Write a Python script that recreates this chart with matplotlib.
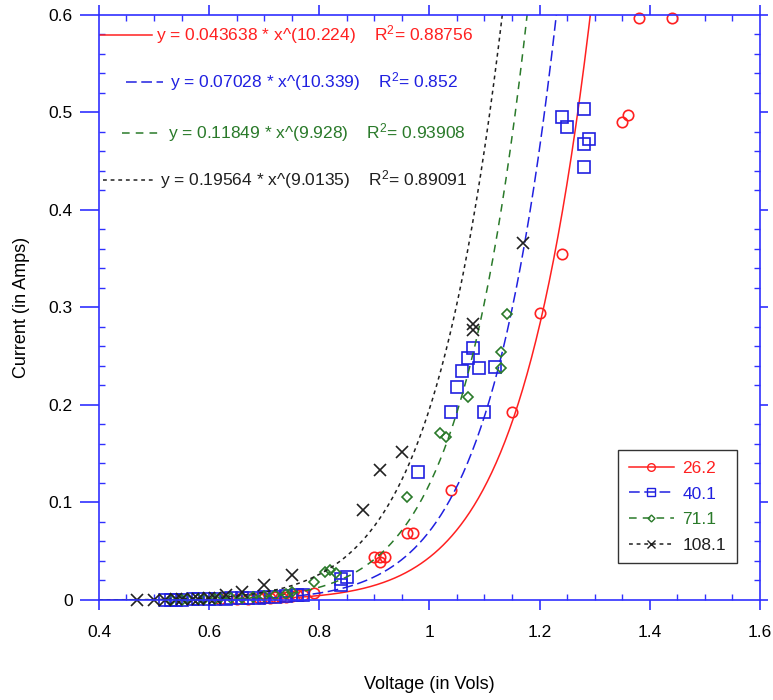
import numpy as np
import matplotlib
matplotlib.use("Agg")
import matplotlib.pyplot as plt
from matplotlib.ticker import MultipleLocator

plt.rcParams['font.family'] = ['Liberation Sans', 'DejaVu Sans']
plt.rcParams['mathtext.default'] = 'regular'

# data
red_v = [0.62, 0.65, 0.67, 0.69, 0.70, 0.71, 0.72, 0.73, 0.74, 0.75, 0.76, 0.77, 0.79,
         0.90, 0.91, 0.92, 0.91, 0.96, 0.97, 1.04, 1.15, 1.20, 1.24, 1.35, 1.36, 1.38, 1.44]
red_i = [0.0005, 0.0008, 0.001, 0.0015, 0.002, 0.002, 0.0025, 0.003, 0.003, 0.004, 0.005, 0.005, 0.007,
         0.044, 0.044, 0.044, 0.039, 0.069, 0.069, 0.113, 0.193, 0.294, 0.355, 0.490, 0.497, 0.597, 0.597]

blue_v = [0.52, 0.53, 0.54, 0.55, 0.57, 0.58, 0.60, 0.61, 0.63, 0.64, 0.66, 0.67, 0.69, 0.70, 0.72,
          0.74, 0.76, 0.77, 0.84, 0.84, 0.85, 0.98, 1.04, 1.05, 1.06, 1.07, 1.08, 1.09, 1.10, 1.12,
          1.24, 1.25, 1.28, 1.28, 1.28, 1.29]
blue_i = [0.0, 0.0, 0.0, 0.0, 0.0005, 0.0005, 0.0008, 0.001, 0.001, 0.0015, 0.0015, 0.002, 0.002, 0.0025, 0.003,
          0.004, 0.005, 0.005, 0.015, 0.021, 0.023, 0.131, 0.193, 0.218, 0.235, 0.248, 0.258, 0.238, 0.193, 0.239,
          0.495, 0.485, 0.503, 0.467, 0.444, 0.473]

green_v = [0.53, 0.55, 0.56, 0.58, 0.59, 0.61, 0.62, 0.64, 0.66, 0.68, 0.70, 0.72, 0.74, 0.75,
           0.79, 0.81, 0.82, 0.83, 0.96, 1.02, 1.03, 1.07, 1.13, 1.13, 1.14]
green_i = [0.0, 0.0, 0.0005, 0.0005, 0.001, 0.001, 0.0015, 0.002, 0.002, 0.003, 0.004, 0.005, 0.006, 0.008,
           0.018, 0.029, 0.031, 0.028, 0.106, 0.171, 0.167, 0.208, 0.238, 0.254, 0.293]

black_v = [0.47, 0.50, 0.52, 0.54, 0.55, 0.57, 0.58, 0.60, 0.61, 0.63, 0.66, 0.70, 0.75,
           0.88, 0.91, 0.95, 1.08, 1.08, 1.17]
black_i = [0.0, 0.0, 0.0, 0.0005, 0.0005, 0.001, 0.001, 0.002, 0.002, 0.005, 0.008, 0.015, 0.026,
           0.092, 0.133, 0.152, 0.283, 0.277, 0.366]

labels = ['26.2', '40.1', '71.1', '108.1']
fit_a = [0.043638, 0.07028, 0.11849, 0.19564]
fit_b = [10.224, 10.339, 9.928, 9.0135]
fit_r2 = ['0.88756', '0.852', '0.93908', '0.89091']

colors = ['#ff2020', '#2020e0', '#2a7a2a', '#202020']
markers = ['o', 's', 'D', 'x']
msizes = [7.5, 8, 5.5, 8]
dashes = [None, (7, 3), (5, 4), (2.5, 2.5)]

series = [(red_v, red_i), (blue_v, blue_i), (green_v, green_i), (black_v, black_i)]

fig = plt.figure(figsize=(7.73, 7.0), dpi=100)
ax = fig.add_axes([0.128, 0.143, 0.855, 0.836])

xs = np.linspace(0.4, 1.6, 600)
handles = []
for k, (v, cur) in enumerate(series):
    yfit = fit_a[k] * xs ** fit_b[k]
    ls = '-' if dashes[k] is None else (0, dashes[k])
    ax.plot(xs, yfit, color=colors[k], lw=1.1, linestyle=ls)
    ax.plot(v, cur, linestyle='none', marker=markers[k], ms=msizes[k],
            mfc='none', mec=colors[k], mew=1.2, clip_on=False)
    h, = ax.plot([], [], color=colors[k], lw=1.1, linestyle=ls, marker=markers[k],
                 ms=msizes[k] - 2, mfc='none', mec=colors[k])
    handles.append(h)

# equation labels with line samples
eq_y = [0.966, 0.885, 0.798, 0.718]
line_x = [(0.0, 0.080), (0.041, 0.097), (0.035, 0.093), (0.006, 0.085)]
text_x = [0.086, 0.108, 0.105, 0.093]
for k in range(4):
    ax.plot(line_x[k], [eq_y[k]] * 2, transform=ax.transAxes, color=colors[k], lw=1.1,
            linestyle='-' if dashes[k] is None else (0, dashes[k]))
    ax.text(text_x[k], eq_y[k],
            'y = %s * x^(%s)    R$^2$= %s' % (fit_a[k], fit_b[k], fit_r2[k]),
            transform=ax.transAxes, color=colors[k], fontsize=12.5, va='center', ha='left')

ax.set_xlim(0.4, 1.6)
ax.set_ylim(0, 0.6)
ax.xaxis.set_minor_locator(MultipleLocator(0.05))
ax.yaxis.set_minor_locator(MultipleLocator(0.02))
ax.set_xticks([0.4, 0.6, 0.8, 1.0, 1.2, 1.4, 1.6])
ax.set_xticklabels(['0.4', '0.6', '0.8', '1', '1.2', '1.4', '1.6'])
ax.set_yticks([0, 0.1, 0.2, 0.3, 0.4, 0.5, 0.6])
ax.set_yticklabels(['0', '0.1', '0.2', '0.3', '0.4', '0.5', '0.6'])

axis_blue = '#3030ff'
for s in ax.spines.values():
    s.set_color(axis_blue)
    s.set_linewidth(1.2)
ax.tick_params(which='major', direction='out', width=1.2, color=axis_blue, labelsize=12.5)
ax.tick_params(axis='x', which='major', length=7, pad=11, top=True)
ax.tick_params(axis='y', which='major', length=13.5, pad=5.5, right=False)
ax.tick_params(which='minor', direction='in', length=4.5, width=1.0, color=axis_blue, top=True)
ax.tick_params(axis='y', which='minor', right=False)

# right-hand ticks are shorter than the left-hand ones
ax_r = ax.twinx()
ax_r.set_ylim(ax.get_ylim())
ax_r.set_yticks([0, 0.1, 0.2, 0.3, 0.4, 0.5, 0.6])
ax_r.yaxis.set_minor_locator(MultipleLocator(0.02))
ax_r.tick_params(which='major', direction='out', length=6, width=1.2, color=axis_blue, labelright=False)
ax_r.tick_params(which='minor', direction='in', length=4.5, width=1.0, color=axis_blue)
for s in ax_r.spines.values():
    s.set_visible(False)

ax.set_xlabel('Voltage (in Vols)', fontsize=13, labelpad=26)
ax.set_ylabel('Current (in Amps)', fontsize=13, labelpad=13)

leg = ax.legend(handles, labels, loc='lower right', bbox_to_anchor=(0.978, 0.048),
                fontsize=12.5, frameon=True, fancybox=False, handlelength=2.6,
                labelspacing=0.6, borderpad=0.6, handletextpad=0.5)
leg.get_frame().set_edgecolor('black')
leg.get_frame().set_linewidth(1.0)
for t, c in zip(leg.get_texts(), colors):
    t.set_color(c)

fig.savefig('out.png', dpi=100)
